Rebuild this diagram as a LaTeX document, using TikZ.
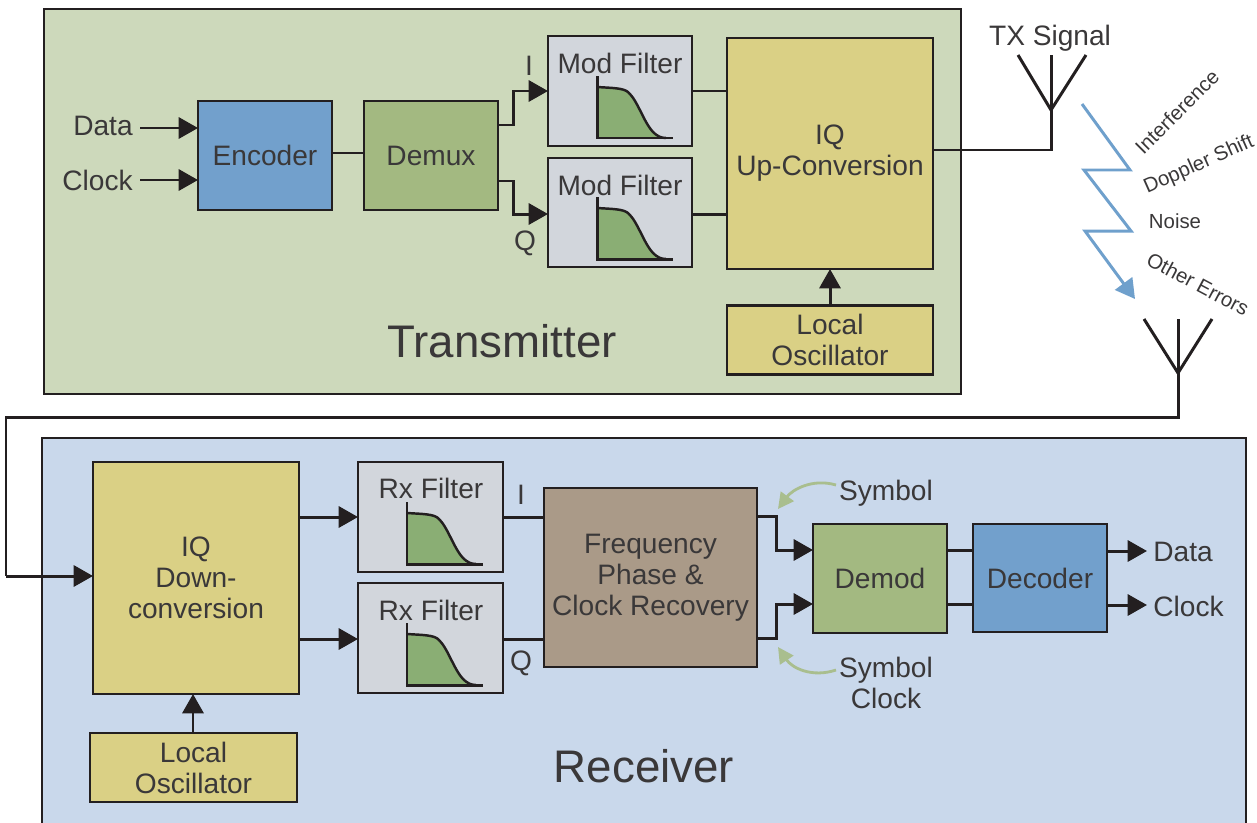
\documentclass[tikz,border=0pt]{standalone}
\usepackage{fontspec}
\setmainfont{Liberation Sans}
\usetikzlibrary{arrows.meta}
\definecolor{inkc}{HTML}{231F20}
\definecolor{txtc}{HTML}{3A3839}
\definecolor{txpanel}{HTML}{CDD9BB}
\definecolor{rxpanel}{HTML}{C9D8EB}
\definecolor{bluebox}{HTML}{72A0CC}
\definecolor{greenbox}{HTML}{A3B981}
\definecolor{greybox}{HTML}{D2D6DC}
\definecolor{yellowbox}{HTML}{DAD085}
\definecolor{brownbox}{HTML}{AA9A88}
\definecolor{curvegreen}{HTML}{8AAE74}
\definecolor{noiseblue}{HTML}{6FA0CC}
\definecolor{hintgreen}{HTML}{A9BE8E}
\tikzset{
  block/.style 2 args={draw=inkc,line width=1.6pt,outer sep=0pt,inner sep=0pt,
    minimum width=#1*0.02cm,minimum height=#2*0.02cm,align=center,text=txtc,
    font=\fontsize{16}{17.6}\selectfont},
  lbl/.style={inner sep=0pt,text=txtc,align=center,font=\fontsize{16}{17.6}\selectfont},
  small/.style={inner sep=0pt,text=txtc,font=\fontsize{11.6}{13}\selectfont},
  title/.style={inner sep=0pt,text=txtc,font=\fontsize{26}{30}\selectfont},
  wire/.style={draw=inkc,line width=1.7pt},
  arrow/.style={wire,-{Triangle[length=11pt,width=12pt]}},
  hint/.style={draw=hintgreen,line width=1.6pt,-{Triangle[length=9pt,width=9pt]}}
}
\begin{document}
\begin{tikzpicture}[x=0.02cm,y=-0.02cm]
\useasboundingbox (0,0) rectangle (1257,822);
% panels
\node[block={917}{385},fill=txpanel] (txarea) at (502.5,201.5) {};
\node[block={1204}{392},fill=rxpanel] (rxarea) at (644,634) {};
\node[title] (txtitle) at (502,341) {Transmitter};
\node[title] (rxtitle) at (644,766) {Receiver};
% transmitter blocks
\node[block={134}{109},fill=bluebox] (encoder) at (265,155.5) {Encoder};
\node[block={134}{109},fill=greenbox] (demux) at (431,155.5) {Demux};
\node[block={144}{110},fill=greybox] (modi) at (620,91) {};
\node[block={144}{109},fill=greybox] (modq) at (620,212.5) {};
\node[block={206}{231},fill=yellowbox] (upconv) at (830,153.5) {IQ\\Up-Conversion};
\node[block={206}{69},fill=yellowbox] (txosc) at (830,340) {Local\\Oscillator};
\node[lbl] (moditxt) at (620,63) {Mod Filter};
\node[lbl] (modqtxt) at (620,185) {Mod Filter};
% receiver blocks
\node[block={206}{232},fill=yellowbox] (downconv) at (196,578) {IQ\\Down-\\conversion};
\node[block={145}{110},fill=greybox] (rxi) at (430.5,517) {};
\node[block={145}{110},fill=greybox] (rxq) at (430.5,638) {};
\node[block={213}{179},fill=brownbox] (recovery) at (650.5,577.5) {Frequency\\Phase \&\\Clock Recovery};
\node[block={134}{109},fill=greenbox] (demod) at (880,578.5) {Demod};
\node[block={134}{108},fill=bluebox] (decoder) at (1040,578) {Decoder};
\node[block={207}{69},fill=yellowbox] (rxosc) at (193.5,767.5) {Local\\Oscillator};
\node[lbl] (rxitxt) at (431,488) {Rx Filter};
\node[lbl] (rxqtxt) at (431,610) {Rx Filter};
% filter curves
\foreach \f in {modi,modq,rxi,rxq} {
  \begin{scope}[shift={(\f.south west)}]
    \fill[curvegreen] (49,-59) .. controls (65,-58) and (75,-58) .. (80,-54)
      .. controls (90,-45) and (95,-25) .. (105,-14) .. controls (109,-10) and (113,-8) .. (118,-8) -- (49,-8) -- cycle;
    \draw[inkc,line width=1.4pt] (49,-59) .. controls (65,-58) and (75,-58) .. (80,-54)
      .. controls (90,-45) and (95,-25) .. (105,-14) .. controls (109,-10) and (113,-8) .. (118,-8);
    \draw[inkc,line width=1.7pt] (49,-70) -- (49,-8) -- (125,-8);
  \end{scope}
}
% labels
\node[lbl,anchor=east] (datatx) at (133,126) {Data};
\node[lbl,anchor=east] (clocktx) at (133,180) {Clock};
\node[lbl] (ilabtx) at (529,66) {I};
\node[lbl] (qlabtx) at (525,243) {Q};
\node[lbl] (ilabrx) at (521,495) {I};
\node[lbl] (qlabrx) at (521,663) {Q};
\node[lbl,anchor=west] (datarx) at (1153,552) {Data};
\node[lbl,anchor=west] (clockrx) at (1153,606) {Clock};
\node[lbl] (symlab) at (886,493) {Symbol};
\node[lbl] (symclk) at (886,683) {Symbol\\Clock};
\node[lbl] (txsig) at (1050,38) {TX Signal};
\node[small,rotate=45] (interf) at (1177,112) {Interference};
\node[small,rotate=24] (doppler) at (1199,165) {Doppler Shift};
\node[small] (noise) at (1175,221) {Noise};
\node[small,rotate=-28] (othererr) at (1198,284) {Other Errors};
% free ends
\coordinate (datain) at (140,128);
\coordinate (clockin) at (140,180);
\coordinate (demuxi) at (498,125);
\coordinate (demuxq) at (498,181);
\coordinate (modiin) at (548,91);
\coordinate (modqin) at (548,214);
\coordinate (txbase) at (1051,110);
\coordinate (rxbase) at (1178,373);
\coordinate (rxdrop) at (1178,417);
\coordinate (rxleft) at (6,417);
\coordinate (rxin) at (6,576);
\coordinate (recouti) at (757,516);
\coordinate (recoutq) at (757,638);
\coordinate (demodi) at (813,550);
\coordinate (demodq) at (813,604);
\coordinate (dataout) at (1147,551);
\coordinate (clockout) at (1147,605);
\coordinate (symtip) at (778,509);
\coordinate (clktip) at (778,647);
% transmitter wires
\draw[arrow] (datain) -- (encoder.west |- datain);
\draw[arrow] (clockin) -- (encoder.west |- clockin);
\draw[wire] (encoder.east |- 0,153) -- (demux.west |- 0,153);
\draw[arrow] (demuxi) -- (513,125) -- (513,91) -- (modiin);
\draw[arrow] (demuxq) -- (513,181) -- (513,214) -- (modqin);
\draw[wire] (modi.east) -- (upconv.west |- modi.east);
\draw[wire] (modq.east |- modqin) -- (upconv.west |- modqin);
\draw[arrow] (txosc.north) -- (upconv.south);
\draw[wire] (upconv.east |- 0,150) -- (1051,150) -- (txbase);
% antennas
\draw[wire] (1018,55) -- (txbase) -- (1086,55);
\draw[wire] (1051,55) -- (txbase);
\draw[wire] (1144,319) -- (rxbase) -- (1212,319);
\draw[wire] (1178,319) -- (rxbase);
% noise path
\draw[draw=noiseblue,line width=1.7pt,-{Triangle[length=11pt,width=12pt]}]
  (1082,104) -- (1130,170) -- (1084,170) -- (1131,231) -- (1085,231) -- (1135,299);
% receiver wires
\draw[wire] (rxbase) -- (rxdrop) -- (rxleft) -- (rxin);
\draw[arrow] (rxin) -- (downconv.west |- rxin);
\draw[arrow] (downconv.east |- 0,517) -- (rxi.west |- 0,517);
\draw[arrow] (downconv.east |- 0,639) -- (rxq.west |- 0,639);
\draw[wire] (rxi.east |- 0,517) -- (recovery.west |- 0,517);
\draw[wire] (rxq.east |- 0,639) -- (recovery.west |- 0,639);
\draw[arrow] (rxosc.north -| 193,0) -- (downconv.south -| 193,0);
\draw[arrow] (recouti) -- (776,516) -- (776,550) -- (demodi);
\draw[arrow] (recoutq) -- (776,638) -- (776,604) -- (demodq);
\draw[wire] (demod.east |- demodi) -- (decoder.west |- demodi);
\draw[wire] (demod.east |- demodq) -- (decoder.west |- demodq);
\draw[arrow] (decoder.east |- dataout) -- (dataout);
\draw[arrow] (decoder.east |- clockout) -- (clockout);
\draw[hint] (836,485) .. controls (812,478) and (792,490) .. (symtip);
\draw[hint] (836,670) .. controls (812,678) and (792,668) .. (clktip);
\end{tikzpicture}
\end{document}
